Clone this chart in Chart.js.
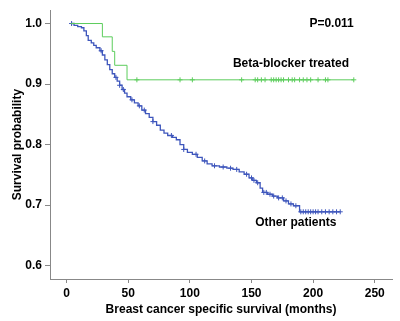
<!DOCTYPE html>
<html lang="en">
  <head>
    <meta charset="UTF-8" />
    <title>Survival curves</title>
    <style>
      html, body { margin: 0; padding: 0; background: #fff; }
      #wrap { width: 400px; height: 321px; }
    </style>
  </head>
  <body>
    <div id="wrap"><canvas id="myChart" width="400" height="321"></canvas></div>

    <script src="https://cdn.jsdelivr.net/npm/chart.js"></script>
    <script>
      // Beta-blocker treated group (event times and survival after each step)
      const greenTimes = [3.3, 29, 37, 39, 49, 233];
      const greenSurv = [1.0, 0.978, 0.954, 0.931, 0.907, 0.907];
      const greenCensor = [57, 92, 102, 142, 153, 155, 158, 161, 166, 168, 170, 172, 174, 176,
        180, 183, 185, 189, 192, 195, 198, 204, 210, 212, 233];

      // Other patients
      const blueTimes = [3.5, 6, 9, 12, 14, 16, 17.5, 20, 22, 24, 27, 29, 31, 33, 35, 37, 39, 41,
        43, 45, 47, 49, 52, 55, 58, 61, 64, 67, 70, 73, 76, 79, 82, 86, 89, 92, 95, 98, 102, 106,
        110, 114, 118, 124, 130, 135, 140, 144, 148, 151, 154, 157, 159, 163, 167, 171, 176, 180,
        184, 189, 222];
      const blueSurv = [1.0, 0.997, 0.995, 0.993, 0.988, 0.980, 0.972, 0.968, 0.964, 0.960, 0.955,
        0.948, 0.940, 0.932, 0.924, 0.917, 0.911, 0.905, 0.898, 0.891, 0.885, 0.879, 0.874, 0.869,
        0.864, 0.857, 0.851, 0.845, 0.838, 0.832, 0.824, 0.819, 0.815, 0.812, 0.808, 0.800, 0.792,
        0.787, 0.784, 0.779, 0.773, 0.768, 0.765, 0.763, 0.761, 0.759, 0.755, 0.751, 0.745, 0.741,
        0.737, 0.728, 0.721, 0.718, 0.715, 0.712, 0.707, 0.702, 0.699, 0.689, 0.689];
      const blueCensor = [4, 28, 40, 43, 46, 53, 59, 63, 70, 85, 95, 105, 112, 120, 127, 133, 138,
        146, 150, 152, 155, 160, 162, 165, 168, 172, 175, 178, 182, 186, 190, 192, 194, 196, 198,
        200, 202, 204, 207, 210, 213, 216, 219, 222];

      const xTicks = [0, 50, 100, 150, 200, 250];
      const yTicks = [0.6, 0.7, 0.8, 0.9, 1.0];

      const GREEN = "rgb(92, 205, 92)";
      const BLUE = "rgb(62, 86, 188)";
      const FONT = "'Liberation Sans', Arial, sans-serif";

      // survival value at time t on a step curve
      function survAt(times, surv, t) {
        let s = surv[0];
        for (let i = 0; i < times.length; i++) {
          if (times[i] <= t) s = surv[i];
        }
        return s;
      }

      function toPoints(xs, ys) {
        return xs.map((x, i) => ({ x: x, y: ys[i] }));
      }

      function censorPoints(ct, times, surv) {
        return ct.map((t) => ({ x: t, y: survAt(times, surv, t) }));
      }

      const labelsPlugin = {
        id: "labels",
        afterDraw(chart) {
          const c = chart.ctx;
          const xs = chart.scales.x;
          const ys = chart.scales.y;
          c.save();
          c.fillStyle = "#000";
          c.font = "bold 12px " + FONT;
          c.textBaseline = "middle";
          c.textAlign = "right";
          c.fillText("P=0.011", xs.getPixelForValue(233), ys.getPixelForValue(1.0));
          c.textAlign = "center";
          c.fillText("Beta-blocker treated", xs.getPixelForValue(182), ys.getPixelForValue(0.934));
          c.fillText("Other patients", xs.getPixelForValue(186), ys.getPixelForValue(0.671));
          c.restore();
        },
      };

      const ctx = document.getElementById("myChart").getContext("2d");
      new Chart(ctx, {
        type: "line",
        data: {
          datasets: [
            {
              data: toPoints(greenTimes, greenSurv),
              borderColor: GREEN,
              borderWidth: 1,
              stepped: "before",
              pointRadius: 0,
              fill: false,
            },
            {
              data: toPoints(blueTimes, blueSurv),
              borderColor: BLUE,
              borderWidth: 1.3,
              stepped: "before",
              pointRadius: 0,
              fill: false,
            },
            {
              data: censorPoints(greenCensor, greenTimes, greenSurv),
              showLine: false,
              pointStyle: "cross",
              pointRadius: 2.5,
              borderColor: GREEN,
              borderWidth: 1,
            },
            {
              data: censorPoints(blueCensor, blueTimes, blueSurv),
              showLine: false,
              pointStyle: "cross",
              pointRadius: 2.5,
              borderColor: BLUE,
              borderWidth: 1,
            },
          ],
        },
        options: {
          responsive: false,
          animation: false,
          layout: { padding: { left: 0, right: 8, top: 8, bottom: 0 } },
          plugins: { legend: { display: false }, tooltip: { enabled: false } },
          scales: {
            x: {
              type: "linear",
              min: -13.5,
              max: 264,
              afterBuildTicks: (s) => { s.ticks = xTicks.map((v) => ({ value: v })); },
              afterFit: (s) => { s.height = 42; },
              grid: { drawOnChartArea: false, tickLength: 4, color: "#888" },
              border: { color: "#888" },
              ticks: { color: "#000", font: { family: FONT, size: 12, weight: "bold" }, padding: 3, maxRotation: 0 },
              title: { display: true, text: "Breast cancer specific survival (months)", color: "#000",
                font: { family: FONT, size: 12, weight: "bold" }, padding: { top: 2 } },
            },
            y: {
              min: 0.578,
              max: 1.022,
              afterBuildTicks: (s) => { s.ticks = yTicks.map((v) => ({ value: v })); },
              afterFit: (s) => { s.width = 50; },
              grid: { drawOnChartArea: false, tickLength: 5, color: "#888" },
              border: { color: "#888" },
              ticks: { color: "#000", font: { family: FONT, size: 12, weight: "bold" }, padding: 3,
                callback: (v) => Number(v).toFixed(1) },
              title: { display: true, text: "Survival probability", color: "#000",
                font: { family: FONT, size: 12, weight: "bold" }, padding: { top: 10, bottom: 0 } },
            },
          },
        },
        plugins: [labelsPlugin],
      });
    </script>
  </body>
</html>
